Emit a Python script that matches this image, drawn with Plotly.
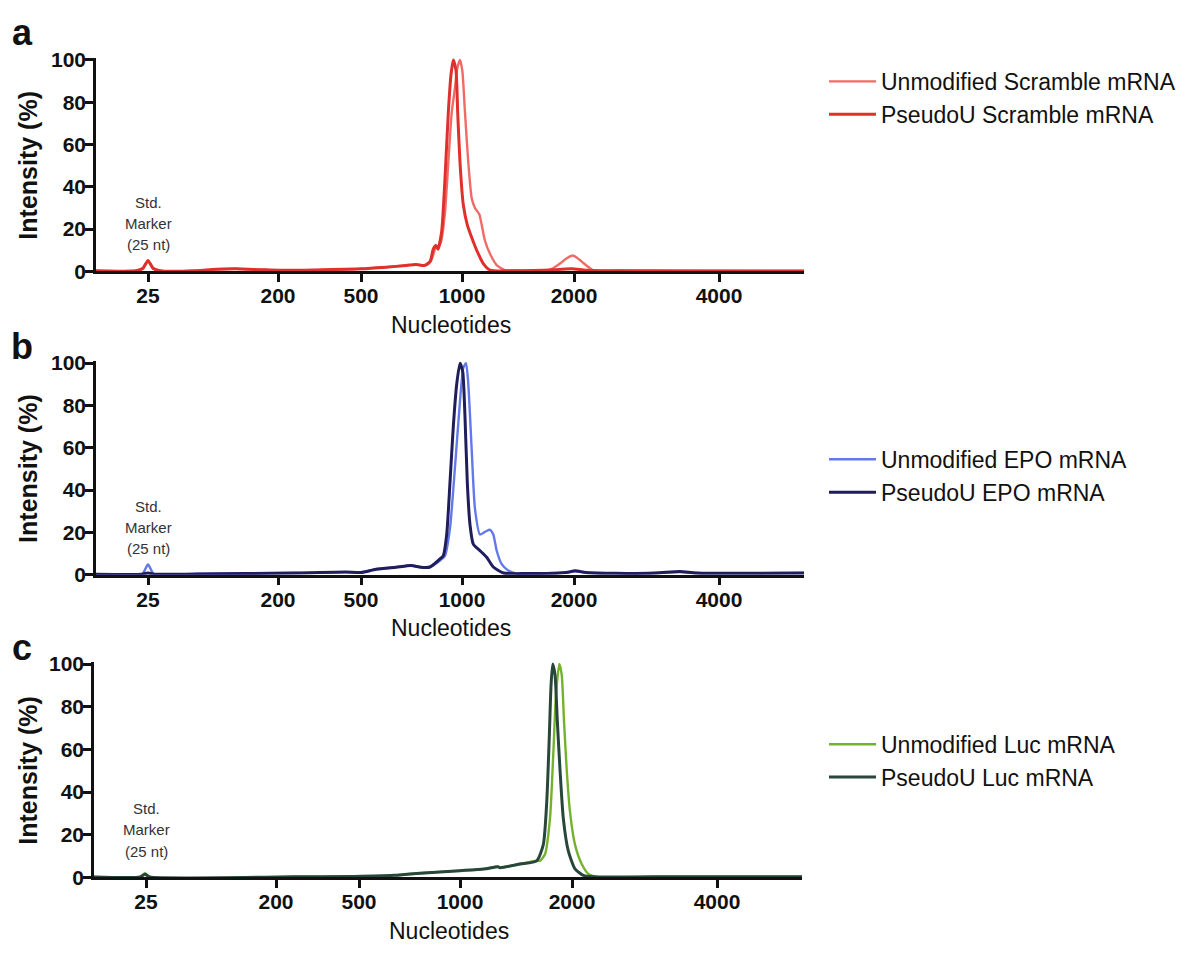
import plotly.graph_objects as go

# ---- ladder (size marker positions on the migration axis) ----
ladder_pos = [52, 182, 265, 366, 478, 623]
ladder_nt = ["25", "200", "500", "1000", "2000", "4000"]
y_ticks = [0, 20, 40, 60, 80, 100]

# ---- panel a: Scramble mRNA ----
scr_unmod_x = [0, 40, 47, 52, 57, 64, 100, 120, 140, 165, 185, 230, 265, 290, 310, 320, 330, 335, 338,
               340, 342, 345, 349, 352.3, 355.7, 359, 361.3, 364, 366.3, 369, 372.3, 375.7, 379, 383.3,
               385.7, 389, 394, 400.7, 409, 420, 450, 457, 464, 470, 476.7, 481, 486, 497, 520, 560, 600, 708]
scr_unmod_y = [0.3, 0.3, 1.5, 5.0, 1.5, 0.3, 0.3, 1.0, 1.2, 0.8, 0.5, 0.8, 1.2, 2.0, 2.8, 3.3, 2.8, 5.0, 9.0,
               12.0, 11.5, 14.0, 28.0, 51.5, 75.0, 87.0, 96.0, 100.0, 95.0, 75.0, 51.5, 34.6, 30.0, 27.0,
               22.0, 14.5, 8.3, 3.0, 0.6, 0.4, 0.5, 1.5, 3.7, 6.0, 7.5, 6.5, 4.5, 0.6, 0.4, 0.3, 0.2, 0.2]
scr_pseu_x = [0, 40, 47, 52, 57, 64, 100, 120, 140, 165, 185, 230, 265, 290, 310, 320, 328, 334, 337.3,
              340, 342, 345.7, 349, 352.3, 355, 357.3, 360, 361.7, 364, 367.3, 371.3, 375.7, 380.7, 387.3,
              394, 420, 460, 476, 490, 520, 708]
scr_pseu_y = [0.3, 0.3, 1.5, 5.2, 1.5, 0.3, 0.3, 1.0, 1.2, 0.8, 0.5, 0.8, 1.2, 2.0, 2.8, 3.3, 2.8, 4.6, 10.6,
              12.2, 10.5, 19.0, 44.0, 75.0, 93.0, 100.0, 95.0, 75.0, 51.5, 31.5, 22.0, 16.0, 10.0, 3.7,
              0.6, 0.3, 0.8, 1.2, 0.6, 0.3, 0.2]

# ---- panel b: EPO mRNA ----
epo_unmod_x = [0, 46, 52, 58, 100, 150, 200, 250, 265, 280, 300, 315, 325, 334, 344, 349, 354, 359, 364,
               367.3, 370, 372.3, 375.7, 379, 384, 390, 394, 397.3, 400.7, 405.7, 412.3, 420.7, 440, 470,
               479, 490, 520, 560, 584, 600, 650, 708]
epo_unmod_y = [0.2, 0.2, 4.8, 0.2, 0.3, 0.5, 0.8, 1.2, 1.0, 2.5, 3.5, 4.3, 3.5, 3.6, 6.7, 9.0, 22.0, 51.0, 82.0,
               97.7, 100.0, 90.0, 59.0, 31.0, 19.0, 20.5, 21.2, 19.0, 11.3, 5.0, 2.0, 0.5, 0.5, 1.0,
               1.6, 1.0, 0.6, 0.8, 1.2, 0.8, 0.6, 0.8]
epo_pseu_x = [0, 46, 52, 58, 100, 150, 200, 250, 265, 280, 300, 315, 325, 334, 344, 347.3, 350.7, 354,
              357.3, 360.7, 364, 366.7, 369, 371.3, 374, 377.3, 384, 390.7, 397.3, 407.3, 430, 470, 479,
              490, 520, 560, 584, 600, 650, 708]
epo_pseu_y = [0.2, 0.2, 0.8, 0.2, 0.3, 0.5, 0.8, 1.2, 1.0, 2.5, 3.5, 4.3, 3.5, 3.6, 7.4, 9.0, 19.0, 43.7,
              70.0, 90.0, 100.0, 96.0, 74.5, 43.7, 23.6, 14.4, 11.3, 8.2, 3.6, 0.8, 0.5, 1.0, 1.8,
              1.0, 0.6, 0.8, 1.5, 0.8, 0.6, 0.8]

# ---- panel c: Luc mRNA ----
luc_unmod_x = [0, 46, 51, 56, 200, 260, 300, 326, 366, 390, 404, 406, 426, 442.7, 446, 451, 456, 459.3,
               462, 465.3, 467.7, 470, 472.7, 476, 481, 487.7, 494.3, 502.7, 560, 708]
luc_unmod_y = [0.2, 0.2, 2.0, 0.2, 0.3, 0.5, 1.0, 2.0, 3.2, 4.0, 5.0, 4.6, 6.3, 7.8, 7.8, 10.9, 27.7, 58.0,
               85.8, 100.0, 95.0, 73.5, 50.6, 30.7, 15.4, 6.3, 1.7, 0.3, 0.3, 0.3]
luc_pseu_x = [0, 46, 51, 56, 200, 260, 300, 326, 366, 390, 404, 406, 426, 442.7, 449.3, 452.7, 455.3,
              457, 458.7, 461, 463.3, 466, 469.3, 474.3, 481, 489.3, 500, 560, 708]
luc_pseu_y = [0.2, 0.2, 1.5, 0.2, 0.3, 0.5, 1.0, 2.0, 3.2, 4.0, 5.0, 4.6, 6.3, 7.8, 15.4, 35.0, 66.0,
              89.6, 100.0, 95.0, 73.5, 50.6, 27.7, 12.4, 4.0, 1.0, 0.3, 0.3, 0.3]

W, H = 1197, 957
FONT = "Liberation Sans"
INK = "#111111"


def py(px):
    return 1 - px / H


def px_x(px):
    return px / W


# panel geometry in pixels: (left, right, y at 0, y at 100)
panels = [
    dict(left=96, right=804, y0=268, y100=52, letter="a", letter_y=24,
         names=["Unmodified Scramble mRNA", "PseudoU Scramble mRNA"],
         colors=["#f06a66", "#e0302b"],
         data=[(scr_unmod_x, scr_unmod_y), (scr_pseu_x, scr_pseu_y)],
         legend_top=52),
    dict(left=96, right=804, y0=577.7, y100=361.7, letter="b", letter_y=345,
         names=["Unmodified EPO mRNA", "PseudoU EPO mRNA"],
         colors=["#6378ea", "#1f1d5c"],
         data=[(epo_unmod_x, epo_unmod_y), (epo_pseu_x, epo_pseu_y)],
         legend_top=438),
    dict(left=94, right=802, y0=887, y100=669, letter="c", letter_y=652,
         names=["Unmodified Luc mRNA", "PseudoU Luc mRNA"],
         colors=["#74b22e", "#28473a"],
         data=[(luc_unmod_x, luc_unmod_y), (luc_pseu_x, luc_pseu_y)],
         legend_top=729),
]

fig = go.Figure()
annotations = []
layout = {}

for i, p in enumerate(panels):
    n = "" if i == 0 else str(i + 1)
    xa, ya = "x" + n, "y" + n
    leg = "legend" + n
    scale = (p["y0"] - p["y100"]) / 100.0
    ytop = p["y0"] - 101 * scale

    for (xs, ys), name, col, w in zip(p["data"], p["names"], p["colors"], [2.4, 3.0]):
        fig.add_trace(go.Scatter(
            x=xs, y=ys, mode="lines", name=name,
            line=dict(color=col, width=w, shape="spline", smoothing=0.6),
            xaxis=xa, yaxis=ya, legend=leg,
        ))

    layout["xaxis" + n] = dict(
        domain=[px_x(p["left"]), px_x(p["right"])], range=[0, 708], anchor=ya,
        tickmode="array", tickvals=ladder_pos, ticktext=ladder_nt,
        showline=True, linecolor=INK, linewidth=2.5,
        ticks="outside", ticklen=8, tickwidth=2.5, tickcolor=INK,
        ticklabelstandoff=-4,
        tickfont=dict(family=FONT, size=21, color=INK, weight="bold"),
        showgrid=False, zeroline=False, fixedrange=True,
    )
    layout["yaxis" + n] = dict(
        domain=[py(p["y0"]), py(ytop)], range=[0, 101], anchor=xa,
        tickmode="array", tickvals=y_ticks,
        showline=True, linecolor=INK, linewidth=2.5,
        ticks="outside", ticklen=8, tickwidth=2.5, tickcolor=INK,
        ticklabelstandoff=-5,
        tickfont=dict(family=FONT, size=21, color=INK, weight="bold"),
        showgrid=False, zeroline=False, fixedrange=True,
    )
    layout[leg] = dict(
        x=px_x(824), y=py(p["legend_top"]), xanchor="left", yanchor="top",
        font=dict(family=FONT, size=23, color=INK),
        bgcolor="rgba(0,0,0,0)", itemwidth=47, tracegroupgap=0,
    )

    mid = (p["y0"] + p["y100"]) / 2
    # y-axis title
    annotations.append(dict(
        text="<b>Intensity (%)</b>", textangle=-90, x=px_x(28), y=py(mid),
        xref="paper", yref="paper", showarrow=False, xanchor="center", yanchor="middle",
        font=dict(family=FONT, size=25, color=INK),
    ))
    # x-axis title
    annotations.append(dict(
        text="Nucleotides", x=px_x(p["left"] + 355), y=py(p["y0"] + 55),
        xref="paper", yref="paper", showarrow=False, xanchor="center", yanchor="middle",
        font=dict(family=FONT, size=23, color=INK),
    ))
    # panel letter
    annotations.append(dict(
        text="<b>" + p["letter"] + "</b>", x=px_x(22), y=py(p["letter_y"]),
        xref="paper", yref="paper", showarrow=False, xanchor="center", yanchor="middle",
        font=dict(family=FONT, size=36, color=INK),
    ))
    # size-standard label above the 25 nt marker
    for k, line in enumerate(["Std.", "Marker", "(25 nt)"]):
        annotations.append(dict(
            text=line, x=ladder_pos[0], y=(70 - 21.5 * k) / scale,
            xref=xa, yref=ya, showarrow=False, xanchor="center", yanchor="middle",
            font=dict(family=FONT, size=15, color="#333333"),
        ))

fig.update_layout(
    width=W, height=H,
    margin=dict(l=0, r=0, t=0, b=0),
    paper_bgcolor="white", plot_bgcolor="white",
    annotations=annotations,
    **layout,
)

fig.write_html("out.html")
